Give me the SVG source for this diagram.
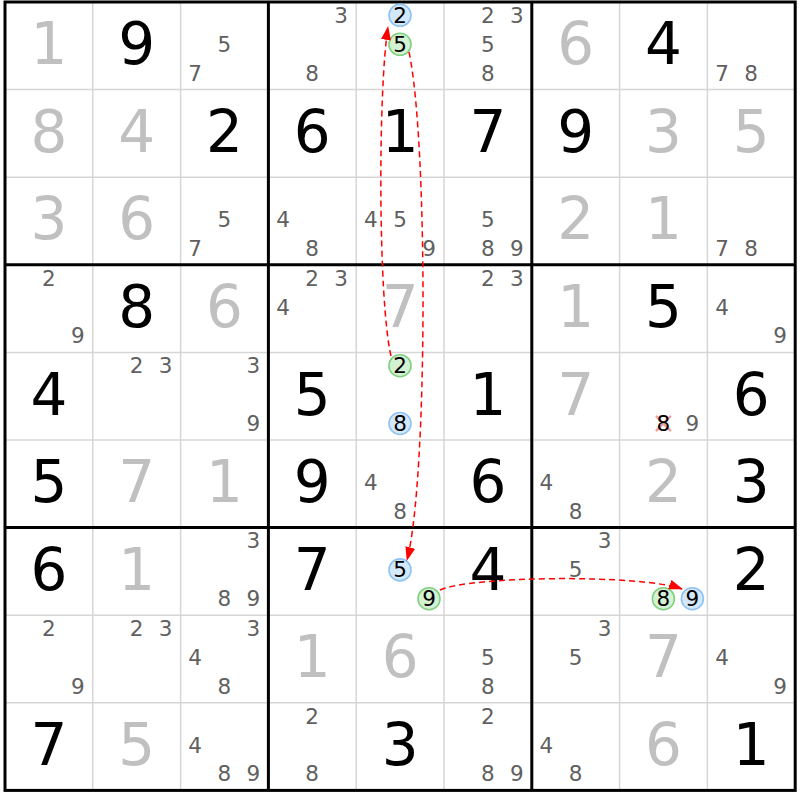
<svg xmlns="http://www.w3.org/2000/svg" width="800" height="800" viewBox="0 0 800 800">
<style>
.thin{stroke:#d6d6d6;stroke-width:1.5}
.thick{stroke:#000;stroke-width:3}
.big{font-family:"DejaVu Sans",Verdana,sans-serif;font-size:58px;text-anchor:middle}
.g{fill:#c0c0c0}
.s{fill:#000}
.c{font-family:"DejaVu Sans",Verdana,sans-serif;font-size:21.5px;text-anchor:middle;fill:#606060}
.k{font-family:"DejaVu Sans",Verdana,sans-serif;font-size:21.5px;text-anchor:middle;fill:#000}
.cb{fill:#d4e8fb;stroke:#8ec2f4;stroke-width:1.6}
.cg{fill:#d4f1d4;stroke:#80d080;stroke-width:1.6}
.x{stroke:#f5a0a0;stroke-width:2.5;stroke-linecap:round}
.arrow{fill:none;stroke:#f00;stroke-width:1.5;stroke-dasharray:6 4}
</style>
<defs>
<marker id="ah" viewBox="0 0 14 10" refX="13" refY="5" markerWidth="14" markerHeight="10" markerUnits="userSpaceOnUse" orient="auto">
<path d="M0,0 L14,5 L0,10 z" fill="#f00"/>
</marker>
</defs>
<rect x="0" y="0" width="800" height="800" fill="#fff"/>
<g id="grid">
<g class="thin">
<line x1="92.8" y1="2" x2="92.8" y2="790.4"/><line x1="180.6" y1="2" x2="180.6" y2="790.4"/>
<line x1="356.2" y1="2" x2="356.2" y2="790.4"/><line x1="444" y1="2" x2="444" y2="790.4"/>
<line x1="619.6" y1="2" x2="619.6" y2="790.4"/><line x1="707.4" y1="2" x2="707.4" y2="790.4"/>
<line x1="5" y1="89.6" x2="795.2" y2="89.6"/><line x1="5" y1="177.2" x2="795.2" y2="177.2"/>
<line x1="5" y1="352.4" x2="795.2" y2="352.4"/><line x1="5" y1="440" x2="795.2" y2="440"/>
<line x1="5" y1="615.2" x2="795.2" y2="615.2"/><line x1="5" y1="702.8" x2="795.2" y2="702.8"/>
</g>
<g class="thick">
<line x1="268.4" y1="2" x2="268.4" y2="790.4"/><line x1="531.8" y1="2" x2="531.8" y2="790.4"/>
<line x1="5" y1="264.8" x2="795.2" y2="264.8"/><line x1="5" y1="527.6" x2="795.2" y2="527.6"/>
<rect x="5" y="2" width="790.2" height="788.4" fill="none"/>
</g>
</g>
<g id="cells">
<!-- row 0 -->
<g id="r0c0" transform="translate(5,2)"><text class="big g" x="43.9" y="62.3">1</text></g>
<g id="r0c1" transform="translate(92.8,2)"><text class="big s" x="43.9" y="62.3">9</text></g>
<g id="r0c2" transform="translate(180.6,2)"><text class="c" x="43.8" y="49.8">5</text><text class="c" x="14.6" y="78.6">7</text></g>
<g id="r0c3" transform="translate(268.4,2)"><text class="c" x="72.8" y="20.8">3</text><text class="c" x="43.8" y="78.6">8</text></g>
<g id="r0c4" transform="translate(356.2,2)"><circle class="cb" cx="43.8" cy="13.3" r="11"/><text class="k" x="43.8" y="20.8">2</text><circle class="cg" cx="43.8" cy="42.3" r="11"/><text class="k" x="43.8" y="49.8">5</text></g>
<g id="r0c5" transform="translate(444,2)"><text class="c" x="43.8" y="20.8">2</text><text class="c" x="72.8" y="20.8">3</text><text class="c" x="43.8" y="49.8">5</text><text class="c" x="43.8" y="78.6">8</text></g>
<g id="r0c6" transform="translate(531.8,2)"><text class="big g" x="43.9" y="62.3">6</text></g>
<g id="r0c7" transform="translate(619.6,2)"><text class="big s" x="43.9" y="62.3">4</text></g>
<g id="r0c8" transform="translate(707.4,2)"><text class="c" x="14.6" y="78.6">7</text><text class="c" x="43.8" y="78.6">8</text></g>
<!-- row 1 -->
<g id="r1c0" transform="translate(5,89.6)"><text class="big g" x="43.9" y="62.3">8</text></g>
<g id="r1c1" transform="translate(92.8,89.6)"><text class="big g" x="43.9" y="62.3">4</text></g>
<g id="r1c2" transform="translate(180.6,89.6)"><text class="big s" x="43.9" y="62.3">2</text></g>
<g id="r1c3" transform="translate(268.4,89.6)"><text class="big s" x="43.9" y="62.3">6</text></g>
<g id="r1c4" transform="translate(356.2,89.6)"><text class="big s" x="43.9" y="62.3">1</text></g>
<g id="r1c5" transform="translate(444,89.6)"><text class="big s" x="43.9" y="62.3">7</text></g>
<g id="r1c6" transform="translate(531.8,89.6)"><text class="big s" x="43.9" y="62.3">9</text></g>
<g id="r1c7" transform="translate(619.6,89.6)"><text class="big g" x="43.9" y="62.3">3</text></g>
<g id="r1c8" transform="translate(707.4,89.6)"><text class="big g" x="43.9" y="62.3">5</text></g>
<!-- row 2 -->
<g id="r2c0" transform="translate(5,177.2)"><text class="big g" x="43.9" y="62.3">3</text></g>
<g id="r2c1" transform="translate(92.8,177.2)"><text class="big g" x="43.9" y="62.3">6</text></g>
<g id="r2c2" transform="translate(180.6,177.2)"><text class="c" x="43.8" y="49.8">5</text><text class="c" x="14.6" y="78.6">7</text></g>
<g id="r2c3" transform="translate(268.4,177.2)"><text class="c" x="14.6" y="49.8">4</text><text class="c" x="43.8" y="78.6">8</text></g>
<g id="r2c4" transform="translate(356.2,177.2)"><text class="c" x="14.6" y="49.8">4</text><text class="c" x="43.8" y="49.8">5</text><text class="c" x="72.8" y="78.6">9</text></g>
<g id="r2c5" transform="translate(444,177.2)"><text class="c" x="43.8" y="49.8">5</text><text class="c" x="43.8" y="78.6">8</text><text class="c" x="72.8" y="78.6">9</text></g>
<g id="r2c6" transform="translate(531.8,177.2)"><text class="big g" x="43.9" y="62.3">2</text></g>
<g id="r2c7" transform="translate(619.6,177.2)"><text class="big g" x="43.9" y="62.3">1</text></g>
<g id="r2c8" transform="translate(707.4,177.2)"><text class="c" x="14.6" y="78.6">7</text><text class="c" x="43.8" y="78.6">8</text></g>
<!-- row 3 -->
<g id="r3c0" transform="translate(5,264.8)"><text class="c" x="43.8" y="20.8">2</text><text class="c" x="72.8" y="78.6">9</text></g>
<g id="r3c1" transform="translate(92.8,264.8)"><text class="big s" x="43.9" y="62.3">8</text></g>
<g id="r3c2" transform="translate(180.6,264.8)"><text class="big g" x="43.9" y="62.3">6</text></g>
<g id="r3c3" transform="translate(268.4,264.8)"><text class="c" x="43.8" y="20.8">2</text><text class="c" x="72.8" y="20.8">3</text><text class="c" x="14.6" y="49.8">4</text></g>
<g id="r3c4" transform="translate(356.2,264.8)"><text class="big g" x="43.9" y="62.3">7</text></g>
<g id="r3c5" transform="translate(444,264.8)"><text class="c" x="43.8" y="20.8">2</text><text class="c" x="72.8" y="20.8">3</text></g>
<g id="r3c6" transform="translate(531.8,264.8)"><text class="big g" x="43.9" y="62.3">1</text></g>
<g id="r3c7" transform="translate(619.6,264.8)"><text class="big s" x="43.9" y="62.3">5</text></g>
<g id="r3c8" transform="translate(707.4,264.8)"><text class="c" x="14.6" y="49.8">4</text><text class="c" x="72.8" y="78.6">9</text></g>
<!-- row 4 -->
<g id="r4c0" transform="translate(5,352.4)"><text class="big s" x="43.9" y="62.3">4</text></g>
<g id="r4c1" transform="translate(92.8,352.4)"><text class="c" x="43.8" y="20.8">2</text><text class="c" x="72.8" y="20.8">3</text></g>
<g id="r4c2" transform="translate(180.6,352.4)"><text class="c" x="72.8" y="20.8">3</text><text class="c" x="72.8" y="78.6">9</text></g>
<g id="r4c3" transform="translate(268.4,352.4)"><text class="big s" x="43.9" y="62.3">5</text></g>
<g id="r4c4" transform="translate(356.2,352.4)"><circle class="cg" cx="43.8" cy="13.3" r="11"/><text class="k" x="43.8" y="20.8">2</text><circle class="cb" cx="43.8" cy="71.1" r="11"/><text class="k" x="43.8" y="78.6">8</text></g>
<g id="r4c5" transform="translate(444,352.4)"><text class="big s" x="43.9" y="62.3">1</text></g>
<g id="r4c6" transform="translate(531.8,352.4)"><text class="big g" x="43.9" y="62.3">7</text></g>
<g id="r4c7" transform="translate(619.6,352.4)"><line class="x" x1="37" y1="64.3" x2="50.6" y2="77.9"/><line class="x" x1="50.6" y1="64.3" x2="37" y2="77.9"/><text class="k" x="43.8" y="78.6">8</text><text class="c" x="72.8" y="78.6">9</text></g>
<g id="r4c8" transform="translate(707.4,352.4)"><text class="big s" x="43.9" y="62.3">6</text></g>
<!-- row 5 -->
<g id="r5c0" transform="translate(5,440)"><text class="big s" x="43.9" y="62.3">5</text></g>
<g id="r5c1" transform="translate(92.8,440)"><text class="big g" x="43.9" y="62.3">7</text></g>
<g id="r5c2" transform="translate(180.6,440)"><text class="big g" x="43.9" y="62.3">1</text></g>
<g id="r5c3" transform="translate(268.4,440)"><text class="big s" x="43.9" y="62.3">9</text></g>
<g id="r5c4" transform="translate(356.2,440)"><text class="c" x="14.6" y="49.8">4</text><text class="c" x="43.8" y="78.6">8</text></g>
<g id="r5c5" transform="translate(444,440)"><text class="big s" x="43.9" y="62.3">6</text></g>
<g id="r5c6" transform="translate(531.8,440)"><text class="c" x="14.6" y="49.8">4</text><text class="c" x="43.8" y="78.6">8</text></g>
<g id="r5c7" transform="translate(619.6,440)"><text class="big g" x="43.9" y="62.3">2</text></g>
<g id="r5c8" transform="translate(707.4,440)"><text class="big s" x="43.9" y="62.3">3</text></g>
<!-- row 6 -->
<g id="r6c0" transform="translate(5,527.6)"><text class="big s" x="43.9" y="62.3">6</text></g>
<g id="r6c1" transform="translate(92.8,527.6)"><text class="big g" x="43.9" y="62.3">1</text></g>
<g id="r6c2" transform="translate(180.6,527.6)"><text class="c" x="72.8" y="20.8">3</text><text class="c" x="43.8" y="78.6">8</text><text class="c" x="72.8" y="78.6">9</text></g>
<g id="r6c3" transform="translate(268.4,527.6)"><text class="big s" x="43.9" y="62.3">7</text></g>
<g id="r6c4" transform="translate(356.2,527.6)"><circle class="cb" cx="43.8" cy="42.3" r="11"/><text class="k" x="43.8" y="49.8">5</text><circle class="cg" cx="72.8" cy="71.1" r="11"/><text class="k" x="72.8" y="78.6">9</text></g>
<g id="r6c5" transform="translate(444,527.6)"><text class="big s" x="43.9" y="62.3">4</text></g>
<g id="r6c6" transform="translate(531.8,527.6)"><text class="c" x="72.8" y="20.8">3</text><text class="c" x="43.8" y="49.8">5</text></g>
<g id="r6c7" transform="translate(619.6,527.6)"><circle class="cg" cx="43.8" cy="71.1" r="11"/><text class="k" x="43.8" y="78.6">8</text><circle class="cb" cx="72.8" cy="71.1" r="11"/><text class="k" x="72.8" y="78.6">9</text></g>
<g id="r6c8" transform="translate(707.4,527.6)"><text class="big s" x="43.9" y="62.3">2</text></g>
<!-- row 7 -->
<g id="r7c0" transform="translate(5,615.2)"><text class="c" x="43.8" y="20.8">2</text><text class="c" x="72.8" y="78.6">9</text></g>
<g id="r7c1" transform="translate(92.8,615.2)"><text class="c" x="43.8" y="20.8">2</text><text class="c" x="72.8" y="20.8">3</text></g>
<g id="r7c2" transform="translate(180.6,615.2)"><text class="c" x="72.8" y="20.8">3</text><text class="c" x="14.6" y="49.8">4</text><text class="c" x="43.8" y="78.6">8</text></g>
<g id="r7c3" transform="translate(268.4,615.2)"><text class="big g" x="43.9" y="62.3">1</text></g>
<g id="r7c4" transform="translate(356.2,615.2)"><text class="big g" x="43.9" y="62.3">6</text></g>
<g id="r7c5" transform="translate(444,615.2)"><text class="c" x="43.8" y="49.8">5</text><text class="c" x="43.8" y="78.6">8</text></g>
<g id="r7c6" transform="translate(531.8,615.2)"><text class="c" x="72.8" y="20.8">3</text><text class="c" x="43.8" y="49.8">5</text></g>
<g id="r7c7" transform="translate(619.6,615.2)"><text class="big g" x="43.9" y="62.3">7</text></g>
<g id="r7c8" transform="translate(707.4,615.2)"><text class="c" x="14.6" y="49.8">4</text><text class="c" x="72.8" y="78.6">9</text></g>
<!-- row 8 -->
<g id="r8c0" transform="translate(5,702.8)"><text class="big s" x="43.9" y="62.3">7</text></g>
<g id="r8c1" transform="translate(92.8,702.8)"><text class="big g" x="43.9" y="62.3">5</text></g>
<g id="r8c2" transform="translate(180.6,702.8)"><text class="c" x="14.6" y="49.8">4</text><text class="c" x="43.8" y="78.6">8</text><text class="c" x="72.8" y="78.6">9</text></g>
<g id="r8c3" transform="translate(268.4,702.8)"><text class="c" x="43.8" y="20.8">2</text><text class="c" x="43.8" y="78.6">8</text></g>
<g id="r8c4" transform="translate(356.2,702.8)"><text class="big s" x="43.9" y="62.3">3</text></g>
<g id="r8c5" transform="translate(444,702.8)"><text class="c" x="43.8" y="20.8">2</text><text class="c" x="43.8" y="78.6">8</text><text class="c" x="72.8" y="78.6">9</text></g>
<g id="r8c6" transform="translate(531.8,702.8)"><text class="c" x="14.6" y="49.8">4</text><text class="c" x="43.8" y="78.6">8</text></g>
<g id="r8c7" transform="translate(619.6,702.8)"><text class="big g" x="43.9" y="62.3">6</text></g>
<g id="r8c8" transform="translate(707.4,702.8)"><text class="big s" x="43.9" y="62.3">1</text></g>
</g>
<g id="connectors">
<path class="arrow" d="M409,52 C428,140 428,480 407,560" marker-end="url(#ah)"/>
<path class="arrow" d="M391,356 C378,300 378,90 388,27" marker-end="url(#ah)"/>
<path class="arrow" d="M440,590 C470,576 640,574 682,589" marker-end="url(#ah)"/>
</g>
</svg>
